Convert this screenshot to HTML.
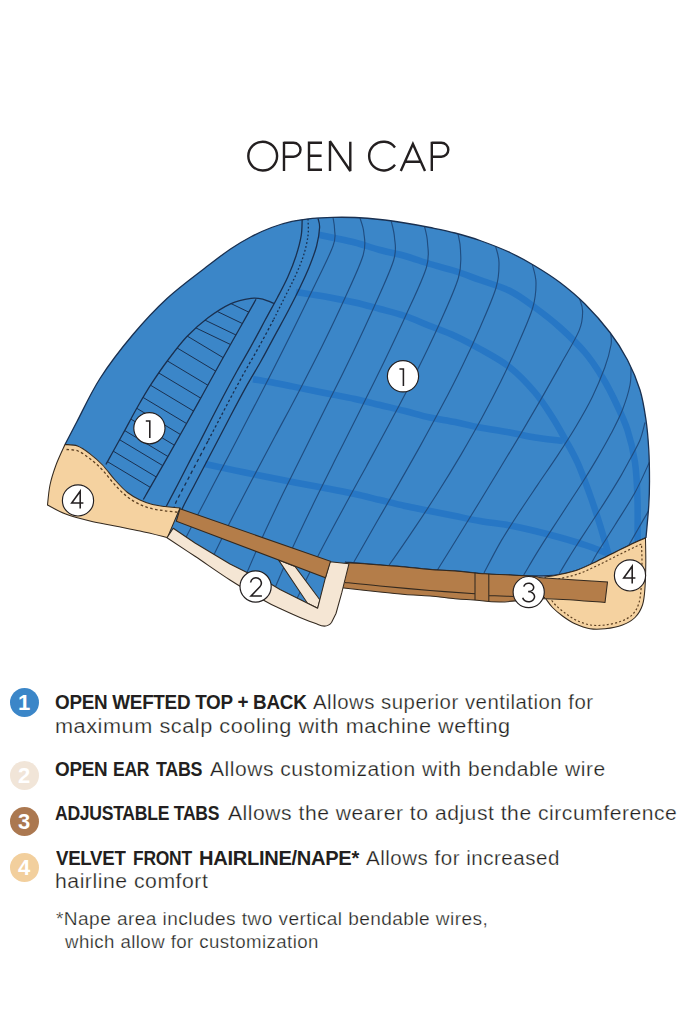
<!DOCTYPE html><html><head><meta charset="utf-8"><title>Open Cap</title><style>
html,body{margin:0;padding:0;background:#fff;}
body{width:683px;height:1024px;position:relative;overflow:hidden;font-family:"Liberation Sans",sans-serif;color:#231f20;}
.l{position:absolute;white-space:nowrap;line-height:24px;transform-origin:0 0;}
.b{font-weight:bold;}
.r{-webkit-text-stroke:0.25px #fff;}
.d{position:absolute;width:29px;height:29px;border-radius:50%;color:#fff;font-weight:bold;font-size:22px;line-height:29px;text-align:center;}
</style></head><body>
<svg width="683" height="1024" viewBox="0 0 683 1024" style="position:absolute;left:0;top:0">
<defs><clipPath id="cb"><path d="M65.0,444.5 C67.0,440.7 71.2,432.5 77.0,421.5 C82.8,410.5 90.7,393.0 100.0,378.5 C109.3,364.0 121.8,347.8 133.0,334.5 C144.2,321.2 155.0,309.6 167.0,298.5 C179.0,287.4 194.4,276.2 205.0,268.0 C215.6,259.8 222.8,254.2 230.5,249.0 C238.2,243.8 244.2,240.4 251.0,236.8 C257.8,233.2 264.7,230.1 271.5,227.5 C278.3,224.9 285.2,222.9 292.0,221.4 C298.8,219.9 305.7,219.0 312.5,218.3 C319.3,217.6 325.9,217.4 333.0,217.3 C340.1,217.2 347.2,217.1 355.0,217.5 C362.8,217.9 371.7,218.6 380.0,219.5 C388.3,220.4 396.7,221.7 405.0,223.0 C413.3,224.3 421.7,225.8 430.0,227.5 C438.3,229.2 446.7,230.8 455.0,233.0 C463.3,235.2 470.8,237.2 480.0,240.5 C489.2,243.8 500.8,248.2 510.0,252.5 C519.2,256.8 526.7,261.0 535.0,266.0 C543.3,271.0 551.7,276.2 560.0,282.5 C568.3,288.8 576.7,295.7 585.0,304.0 C593.3,312.3 602.9,323.2 610.0,332.5 C617.1,341.8 622.5,350.4 627.5,360.0 C632.5,369.6 636.9,380.0 640.0,390.0 C643.1,400.0 644.5,410.0 646.0,420.0 C647.5,430.0 648.2,439.8 648.8,450.0 C649.4,460.2 649.5,471.8 649.5,481.0 C649.5,490.2 649.4,495.6 648.8,505.0 C648.2,514.4 646.5,532.1 646.0,537.5 C644.2,538.3 639.8,540.2 635.0,542.5 C630.2,544.8 623.8,547.9 617.5,551.0 C611.2,554.1 604.2,557.8 597.5,561.0 C590.8,564.2 584.2,567.7 577.5,570.0 C570.8,572.3 564.6,574.0 557.5,575.0 C550.4,576.0 542.9,576.0 535.0,576.0 C527.1,576.0 518.3,575.4 510.0,575.0 C501.7,574.6 494.2,574.5 485.0,573.8 C475.8,573.1 464.2,571.7 455.0,571.0 C445.8,570.3 438.3,570.2 430.0,569.5 C421.7,568.8 413.3,567.8 405.0,567.0 C396.7,566.2 389.2,565.8 380.0,565.0 C370.8,564.2 355.8,563.0 350.0,562.5 C344.2,562.0 345.8,562.1 345.0,562.0 L347.0,564.0 L340.0,592.0 L334.0,613.0 L329.0,622.0 L322.0,624.0 L280.0,607.0 L230.0,578.5 L168.5,537.0 L166.0,536.0 L179.0,508.0 C177.5,507.8 169.6,507.1 165.0,506.5 C160.4,505.9 156.7,505.6 152.5,504.5 C148.3,503.4 144.2,502.0 140.0,500.0 C135.8,498.0 131.7,495.8 127.5,492.5 C123.3,489.2 119.2,484.6 115.0,480.0 C110.8,475.4 106.7,469.4 102.5,465.0 C98.3,460.6 94.2,457.0 90.0,453.8 C85.8,450.6 81.7,447.6 77.5,446.0 C73.3,444.4 67.1,444.8 65.0,444.5Z"/></clipPath></defs>
<path d="M65.0,444.5 C67.0,440.7 71.2,432.5 77.0,421.5 C82.8,410.5 90.7,393.0 100.0,378.5 C109.3,364.0 121.8,347.8 133.0,334.5 C144.2,321.2 155.0,309.6 167.0,298.5 C179.0,287.4 194.4,276.2 205.0,268.0 C215.6,259.8 222.8,254.2 230.5,249.0 C238.2,243.8 244.2,240.4 251.0,236.8 C257.8,233.2 264.7,230.1 271.5,227.5 C278.3,224.9 285.2,222.9 292.0,221.4 C298.8,219.9 305.7,219.0 312.5,218.3 C319.3,217.6 325.9,217.4 333.0,217.3 C340.1,217.2 347.2,217.1 355.0,217.5 C362.8,217.9 371.7,218.6 380.0,219.5 C388.3,220.4 396.7,221.7 405.0,223.0 C413.3,224.3 421.7,225.8 430.0,227.5 C438.3,229.2 446.7,230.8 455.0,233.0 C463.3,235.2 470.8,237.2 480.0,240.5 C489.2,243.8 500.8,248.2 510.0,252.5 C519.2,256.8 526.7,261.0 535.0,266.0 C543.3,271.0 551.7,276.2 560.0,282.5 C568.3,288.8 576.7,295.7 585.0,304.0 C593.3,312.3 602.9,323.2 610.0,332.5 C617.1,341.8 622.5,350.4 627.5,360.0 C632.5,369.6 636.9,380.0 640.0,390.0 C643.1,400.0 644.5,410.0 646.0,420.0 C647.5,430.0 648.2,439.8 648.8,450.0 C649.4,460.2 649.5,471.8 649.5,481.0 C649.5,490.2 649.4,495.6 648.8,505.0 C648.2,514.4 646.5,532.1 646.0,537.5 C644.2,538.3 639.8,540.2 635.0,542.5 C630.2,544.8 623.8,547.9 617.5,551.0 C611.2,554.1 604.2,557.8 597.5,561.0 C590.8,564.2 584.2,567.7 577.5,570.0 C570.8,572.3 564.6,574.0 557.5,575.0 C550.4,576.0 542.9,576.0 535.0,576.0 C527.1,576.0 518.3,575.4 510.0,575.0 C501.7,574.6 494.2,574.5 485.0,573.8 C475.8,573.1 464.2,571.7 455.0,571.0 C445.8,570.3 438.3,570.2 430.0,569.5 C421.7,568.8 413.3,567.8 405.0,567.0 C396.7,566.2 389.2,565.8 380.0,565.0 C370.8,564.2 355.8,563.0 350.0,562.5 C344.2,562.0 345.8,562.1 345.0,562.0 L347.0,564.0 L340.0,592.0 L334.0,613.0 L329.0,622.0 L322.0,624.0 L280.0,607.0 L230.0,578.5 L168.5,537.0 L166.0,536.0 L179.0,508.0 C177.5,507.8 169.6,507.1 165.0,506.5 C160.4,505.9 156.7,505.6 152.5,504.5 C148.3,503.4 144.2,502.0 140.0,500.0 C135.8,498.0 131.7,495.8 127.5,492.5 C123.3,489.2 119.2,484.6 115.0,480.0 C110.8,475.4 106.7,469.4 102.5,465.0 C98.3,460.6 94.2,457.0 90.0,453.8 C85.8,450.6 81.7,447.6 77.5,446.0 C73.3,444.4 67.1,444.8 65.0,444.5Z" fill="#3b86c8"/>
<g clip-path="url(#cb)" fill="none">
<path d="M318.6,234.7 C321.0,235.2 326.9,236.5 333.0,237.8 C339.1,239.1 347.2,240.5 355.0,242.5 C362.8,244.5 371.7,247.8 380.0,250.0 C388.3,252.2 396.7,253.7 405.0,256.0 C413.3,258.3 421.7,261.5 430.0,264.0 C438.3,266.5 446.7,268.3 455.0,271.0 C463.3,273.7 470.8,276.7 480.0,280.0 C489.2,283.3 500.8,286.4 510.0,291.0 C519.2,295.6 526.7,301.4 535.0,307.5 C543.3,313.6 551.7,320.0 560.0,327.5 C568.3,335.0 577.9,344.2 585.0,352.5 C592.1,360.8 597.5,369.4 602.5,377.5 C607.5,385.6 610.8,392.2 615.0,401.0 C619.2,409.8 624.2,419.8 627.5,430.0 C630.8,440.2 633.3,450.8 635.0,462.5 C636.7,474.2 637.1,486.2 637.5,500.0 C637.9,513.8 637.5,537.5 637.5,545.0" stroke="#2777c5" stroke-width="6.5"/>
<path d="M296.0,292.0 C298.8,292.4 306.8,293.7 312.5,294.6 C318.2,295.5 322.9,296.2 330.0,297.5 C337.1,298.8 346.7,300.6 355.0,302.5 C363.3,304.4 371.7,306.8 380.0,309.0 C388.3,311.2 396.7,313.2 405.0,316.0 C413.3,318.8 421.7,322.7 430.0,326.0 C438.3,329.3 446.7,332.2 455.0,336.0 C463.3,339.8 470.8,343.8 480.0,349.0 C489.2,354.2 500.8,360.2 510.0,367.5 C519.2,374.8 527.9,384.2 535.0,392.5 C542.1,400.8 547.5,409.8 552.5,417.5 C557.5,425.2 560.8,431.5 565.0,439.0 C569.2,446.5 573.3,453.2 577.5,462.5 C581.7,471.8 586.2,484.6 590.0,495.0 C593.8,505.4 596.8,514.8 600.0,525.0 C603.2,535.2 607.5,550.8 609.0,556.0" stroke="#2777c5" stroke-width="6.5"/>
<path d="M253.0,379.2 C256.1,379.7 265.0,381.1 271.5,382.3 C278.0,383.5 285.2,385.0 292.0,386.4 C298.8,387.8 306.2,389.2 312.5,390.5 C318.8,391.8 322.9,392.6 330.0,394.0 C337.1,395.4 346.7,397.2 355.0,399.0 C363.3,400.8 371.7,403.0 380.0,405.0 C388.3,407.0 396.7,408.9 405.0,411.0 C413.3,413.1 421.7,415.7 430.0,417.5 C438.3,419.3 446.7,420.3 455.0,422.0 C463.3,423.7 470.8,425.8 480.0,427.5 C489.2,429.2 500.8,430.8 510.0,432.5 C519.2,434.2 526.2,436.1 535.0,437.5 C543.8,438.9 558.3,440.4 563.0,441.0" stroke="#2777c5" stroke-width="6.5"/>
<path d="M205.0,464.0 C211.7,465.4 230.0,469.4 245.0,472.5 C260.0,475.6 280.8,479.8 295.0,482.5 C309.2,485.2 320.0,487.1 330.0,489.0 C340.0,490.9 346.7,492.2 355.0,494.0 C363.3,495.8 371.7,498.0 380.0,500.0 C388.3,502.0 396.7,504.2 405.0,506.0 C413.3,507.8 421.7,509.3 430.0,511.0 C438.3,512.7 446.7,514.3 455.0,516.0 C463.3,517.7 470.8,519.4 480.0,521.0 C489.2,522.6 500.8,523.8 510.0,525.5 C519.2,527.2 526.7,529.0 535.0,531.0 C543.3,533.0 551.7,535.2 560.0,537.5 C568.3,539.8 577.2,542.4 585.0,545.0 C592.8,547.6 603.3,551.7 607.0,553.0" stroke="#2777c5" stroke-width="6.5"/>
<path d="M333.0,217.5 C333.3,219.5 334.6,224.8 334.6,229.6 C334.6,234.3 336.6,236.2 333.0,246.0 C329.5,255.8 320.1,274.1 313.4,288.1 C306.7,302.2 299.9,316.2 292.9,330.3 C286.0,344.3 278.9,358.4 271.7,372.4 C264.6,386.5 257.3,400.5 250.0,414.6 C242.8,428.6 235.4,442.7 228.1,456.7 C220.7,470.8 213.3,484.8 206.0,498.9 C198.7,512.9 187.8,534.0 184.1,541.0" stroke="#204d80" stroke-width="1.15"/>
<path d="M360.0,218.0 C360.6,220.4 363.3,226.3 363.8,232.5 C364.3,238.7 366.5,243.7 363.2,255.0 C359.9,266.3 350.7,285.2 343.9,300.3 C337.1,315.4 329.8,330.5 322.4,345.6 C314.9,360.7 307.1,375.8 299.2,390.9 C291.4,406.0 283.2,421.0 275.2,436.1 C267.2,451.2 259.1,466.3 251.1,481.4 C243.2,496.5 235.3,511.6 227.7,526.7 C220.1,541.8 209.2,564.5 205.5,572.0" stroke="#204d80" stroke-width="1.15"/>
<path d="M391.3,221.3 C391.8,224.0 394.1,231.1 394.5,237.5 C394.9,243.9 397.1,248.5 393.7,260.0 C390.3,271.5 381.0,291.1 374.1,306.7 C367.2,322.3 359.9,337.9 352.5,353.4 C345.0,369.0 337.3,384.6 329.5,400.1 C321.8,415.7 313.9,431.3 306.1,446.9 C298.4,462.4 290.6,478.0 283.0,493.6 C275.5,509.1 268.0,524.7 261.0,540.3 C253.9,555.9 244.2,579.2 240.8,587.0" stroke="#204d80" stroke-width="1.15"/>
<path d="M424.5,226.3 C425.0,229.0 427.2,235.6 427.5,242.5 C427.8,249.4 430.0,255.4 426.4,267.5 C422.8,279.6 413.1,299.4 405.9,315.3 C398.8,331.2 391.2,347.1 383.5,363.1 C375.8,379.0 367.8,394.9 359.8,410.9 C351.9,426.8 343.8,442.7 335.8,458.6 C327.8,474.6 319.8,490.5 312.1,506.4 C304.4,522.4 296.8,538.3 289.6,554.2 C282.4,570.1 272.4,594.0 269.0,602.0" stroke="#204d80" stroke-width="1.15"/>
<path d="M458.0,233.8 C458.4,236.5 460.4,242.7 460.5,250.0 C460.6,257.3 462.1,265.0 458.5,277.5 C454.9,290.0 446.0,309.0 439.0,324.7 C431.9,340.5 424.3,356.2 416.4,371.9 C408.6,387.7 400.3,403.4 391.9,419.1 C383.6,434.9 374.9,450.6 366.3,466.4 C357.7,482.1 349.0,497.8 340.6,513.6 C332.1,529.3 323.6,545.0 315.6,560.8 C307.6,576.5 296.3,600.1 292.5,608.0" stroke="#204d80" stroke-width="1.15"/>
<path d="M495.5,246.0 C496.1,248.8 498.9,255.6 499.0,262.5 C499.1,269.4 499.2,276.8 496.1,287.5 C493.0,298.2 486.0,313.6 480.4,326.7 C474.8,339.8 468.7,352.9 462.3,365.9 C456.0,379.0 449.3,392.1 442.4,405.1 C435.5,418.2 428.3,431.3 421.1,444.4 C413.9,457.4 406.4,470.5 398.9,483.6 C391.5,496.6 383.8,509.7 376.3,522.8 C368.8,535.9 357.6,555.5 353.9,562.0" stroke="#204d80" stroke-width="1.15"/>
<path d="M532.5,265.0 C533.1,267.9 535.9,275.4 536.0,282.5 C536.1,289.6 535.8,297.2 532.8,307.5 C529.8,317.8 523.3,332.1 517.9,344.4 C512.6,356.6 506.9,368.9 500.9,381.2 C494.8,393.5 488.4,405.8 481.8,418.1 C475.1,430.4 468.1,442.6 460.9,454.9 C453.6,467.2 446.1,479.5 438.3,491.8 C430.5,504.1 422.5,516.4 414.2,528.6 C406.0,540.9 393.1,559.4 388.8,565.5" stroke="#204d80" stroke-width="1.15"/>
<path d="M579.5,298.5 C580.0,300.6 582.6,305.7 582.6,311.0 C582.6,316.3 582.9,321.5 579.2,330.4 C575.6,339.3 566.9,353.2 560.6,364.6 C554.2,376.0 547.7,387.4 541.2,398.9 C534.6,410.3 527.9,421.7 521.2,433.1 C514.4,444.5 507.5,455.9 500.6,467.3 C493.7,478.7 486.8,490.1 479.8,501.5 C472.8,513.0 465.7,524.4 458.7,535.8 C451.6,547.2 441.0,564.3 437.4,570.0" stroke="#204d80" stroke-width="1.15"/>
<path d="M610.8,333.8 C610.8,335.7 612.0,339.4 611.0,345.0 C610.0,350.6 607.9,358.9 604.8,367.5 C601.6,376.1 597.1,387.1 592.3,396.9 C587.6,406.6 581.9,416.4 576.1,426.2 C570.3,436.0 563.9,445.8 557.5,455.6 C551.0,465.4 544.2,475.1 537.6,484.9 C531.0,494.7 524.3,504.5 517.9,514.3 C511.6,524.1 505.3,533.9 499.6,543.6 C494.0,553.4 486.6,568.1 484.0,573.0" stroke="#204d80" stroke-width="1.15"/>
<path d="M631.0,367.5 C630.8,370.4 631.4,377.9 630.0,385.0 C628.6,392.1 625.5,401.9 622.4,410.0 C619.2,418.1 615.2,425.7 611.1,433.6 C607.0,441.4 602.5,449.3 597.9,457.1 C593.3,465.0 588.4,472.9 583.5,480.7 C578.5,488.6 573.3,496.4 568.2,504.3 C563.1,512.1 557.9,520.0 552.8,527.9 C547.7,535.7 542.6,543.6 537.8,551.4 C532.9,559.3 526.1,571.1 523.7,575.0" stroke="#204d80" stroke-width="1.15"/>
<path d="M645.0,422.5 C644.2,425.4 642.5,433.9 640.0,440.0 C637.5,446.1 633.3,453.1 630.2,459.0 C627.0,464.9 624.3,470.0 621.2,475.4 C618.0,480.9 614.6,486.4 611.2,491.9 C607.9,497.3 604.3,502.8 600.8,508.3 C597.2,513.8 593.6,519.2 590.0,524.7 C586.4,530.2 582.8,535.7 579.3,541.1 C575.8,546.6 572.2,552.1 568.9,557.6 C565.5,563.0 560.7,571.3 559.1,574.0" stroke="#204d80" stroke-width="1.15"/>
<path d="M649.5,462.0 C647.1,467.1 640.8,482.0 635.0,492.5 C629.2,503.0 621.2,515.0 615.0,525.0 C608.8,535.0 601.5,546.0 597.5,552.5 C593.5,559.0 592.1,562.1 591.0,564.0" stroke="#204d80" stroke-width="1.15"/>
<path d="M649.0,510.0 C647.1,513.3 641.1,523.8 637.5,530.0 C633.9,536.2 629.2,544.6 627.5,547.5" stroke="#204d80" stroke-width="1.15"/>
<path d="M105.9,464.5 C106.9,462.8 108.8,459.3 111.7,454.0 C114.6,448.7 119.1,440.7 123.4,432.9 C127.7,425.1 132.8,415.2 137.5,407.0 C142.2,398.8 146.4,391.5 151.5,383.7 C156.6,375.9 162.1,367.8 168.0,360.0 C173.9,352.2 180.1,343.8 186.7,336.8 C193.3,329.8 200.4,323.5 207.7,318.0 C215.0,312.5 223.3,307.1 230.5,303.8 C237.7,300.5 245.5,299.1 251.0,298.3 C256.5,297.6 259.5,298.4 263.3,299.3 C267.1,300.2 272.2,302.8 274.0,303.5" stroke="#1a3050" stroke-width="1.3"/>
<path d="M256.0,299.3 C253.2,304.3 244.7,319.4 239.0,329.5 C233.3,339.6 227.8,349.2 221.8,360.0 C215.8,370.8 209.2,382.8 203.0,394.0 C196.8,405.2 190.5,416.4 184.3,427.5 C178.1,438.6 171.8,449.6 165.6,460.6 C159.3,471.6 150.5,486.9 146.8,493.4 C143.1,499.9 143.9,498.5 143.3,499.5" stroke="#1a3050" stroke-width="1.3"/>
<path d="M302.2,219.5 C302.0,222.2 302.2,229.6 301.2,235.7 C300.2,241.8 298.2,249.2 296.0,256.0 C293.8,262.8 291.0,269.8 287.9,276.7 C284.8,283.6 281.4,290.0 277.6,297.2 C273.8,304.4 269.7,311.6 265.3,319.8 C260.9,328.0 255.7,337.9 251.0,346.4 C246.3,354.9 241.5,362.9 237.0,371.0 C232.5,379.1 228.2,387.0 224.0,395.0 C219.8,403.0 215.5,411.2 211.5,419.0 C207.5,426.8 203.8,434.1 200.0,441.5 C196.2,448.9 192.2,456.2 188.5,463.5 C184.8,470.8 181.1,478.1 177.5,485.0 C173.9,491.9 169.1,501.0 167.0,505.0 C164.9,509.0 165.3,508.3 165.0,509.0" stroke="#1a3050" stroke-width="1.3"/>
<path d="M308.0,219.0 C308.0,221.8 308.8,229.5 308.0,235.7 C307.2,241.9 305.5,249.4 303.3,256.2 C301.1,263.0 298.1,269.9 295.0,276.7 C291.9,283.5 288.4,290.0 284.8,297.2 C281.2,304.4 275.4,316.0 273.5,319.8" stroke="#1a3050" stroke-width="1.3" stroke-dasharray="1.7 2.2"/>
<path d="M273.5,319.8 C271.1,324.2 263.9,337.9 259.2,346.4 C254.5,354.9 249.8,362.8 245.2,371.0 C240.6,379.2 236.2,387.4 231.8,395.6 C227.4,403.8 223.0,412.4 219.0,420.0 C215.0,427.6 209.8,437.5 208.0,441.0" stroke="#1a3050" stroke-width="1.3" stroke-dasharray="2.5 2.3"/>
<path d="M208.0,441.0 C206.2,444.3 201.0,454.3 197.5,461.0 C194.0,467.7 190.5,474.3 187.0,481.0 C183.5,487.7 178.7,496.5 176.4,501.3 C174.2,506.1 174.0,508.6 173.5,510.0" stroke="#1a3050" stroke-width="1.3" stroke-dasharray="3.6 3.1"/>
<path d="M318.0,218.5 C318.3,220.0 319.8,222.9 319.6,227.5 C319.4,232.1 318.3,239.5 316.6,246.0 C314.9,252.5 312.1,259.7 309.4,266.5 C306.7,273.3 303.6,279.8 300.2,287.0 C296.8,294.2 293.0,301.6 288.9,309.5 C284.8,317.4 280.2,325.6 275.6,334.1 C271.0,342.7 266.0,352.2 261.2,360.8 C256.4,369.4 251.9,376.4 246.9,385.4 C241.9,394.4 235.8,405.9 231.0,415.0 C226.2,424.1 222.1,432.2 218.0,440.0 C213.9,447.8 210.2,454.8 206.5,462.0 C202.8,469.2 199.3,475.7 195.5,483.0 C191.7,490.3 185.8,501.3 183.5,506.0 C181.2,510.7 181.8,510.2 181.5,511.0" stroke="#1a3050" stroke-width="1.3"/>
</g>
<defs><clipPath id="ce"><path d="M105.9,464.5 C106.9,462.8 108.8,459.3 111.7,454.0 C114.6,448.7 119.1,440.7 123.4,432.9 C127.7,425.1 132.8,415.2 137.5,407.0 C142.2,398.8 146.4,391.5 151.5,383.7 C156.6,375.9 162.1,367.8 168.0,360.0 C173.9,352.2 180.1,343.8 186.7,336.8 C193.3,329.8 200.4,323.5 207.7,318.0 C215.0,312.5 223.3,307.1 230.5,303.8 C237.7,300.5 247.6,299.2 251.0,298.3 L256,299.3 C253.2,304.3 244.7,319.4 239.0,329.5 C233.3,339.6 227.8,349.2 221.8,360.0 C215.8,370.8 209.2,382.8 203.0,394.0 C196.8,405.2 190.5,416.4 184.3,427.5 C178.1,438.6 171.8,449.6 165.6,460.6 C159.3,471.6 150.5,486.9 146.8,493.4 C143.1,499.9 143.9,498.5 143.3,499.5Z"/></clipPath></defs>
<g clip-path="url(#ce)" stroke="#1a3050" stroke-width="1.0" fill="none">
<path d="M222.9,299.7 L312.9,342.9"/>
<path d="M208.6,307.3 L298.6,350.5"/>
<path d="M196.2,315.9 L286.2,359.1"/>
<path d="M186.7,323.5 L276.7,366.7"/>
<path d="M177.1,330.0 L267.1,384.0"/>
<path d="M167.2,342.0 L257.2,396.0"/>
<path d="M157.5,355.0 L247.5,409.0"/>
<path d="M149.0,367.1 L239.0,421.1"/>
<path d="M141.0,379.5 L231.0,433.5"/>
<path d="M133.5,391.7 L223.5,445.7"/>
<path d="M126.6,402.2 L216.6,456.2"/>
<path d="M120.4,412.8 L210.4,466.8"/>
<path d="M114.6,424.5 L204.6,478.5"/>
<path d="M109.9,433.9 L199.9,487.9"/>
<path d="M104.0,445.6 L194.0,499.6"/>
<path d="M98.2,456.1 L188.2,510.1"/>
</g>
<path d="M65.0,444.5 C67.0,440.7 71.2,432.5 77.0,421.5 C82.8,410.5 90.7,393.0 100.0,378.5 C109.3,364.0 121.8,347.8 133.0,334.5 C144.2,321.2 155.0,309.6 167.0,298.5 C179.0,287.4 194.4,276.2 205.0,268.0 C215.6,259.8 222.8,254.2 230.5,249.0 C238.2,243.8 244.2,240.4 251.0,236.8 C257.8,233.2 264.7,230.1 271.5,227.5 C278.3,224.9 285.2,222.9 292.0,221.4 C298.8,219.9 305.7,219.0 312.5,218.3 C319.3,217.6 325.9,217.4 333.0,217.3 C340.1,217.2 347.2,217.1 355.0,217.5 C362.8,217.9 371.7,218.6 380.0,219.5 C388.3,220.4 396.7,221.7 405.0,223.0 C413.3,224.3 421.7,225.8 430.0,227.5 C438.3,229.2 446.7,230.8 455.0,233.0 C463.3,235.2 470.8,237.2 480.0,240.5 C489.2,243.8 500.8,248.2 510.0,252.5 C519.2,256.8 526.7,261.0 535.0,266.0 C543.3,271.0 551.7,276.2 560.0,282.5 C568.3,288.8 576.7,295.7 585.0,304.0 C593.3,312.3 602.9,323.2 610.0,332.5 C617.1,341.8 622.5,350.4 627.5,360.0 C632.5,369.6 636.9,380.0 640.0,390.0 C643.1,400.0 644.5,410.0 646.0,420.0 C647.5,430.0 648.2,439.8 648.8,450.0 C649.4,460.2 649.5,471.8 649.5,481.0 C649.5,490.2 649.4,495.6 648.8,505.0 C648.2,514.4 646.5,532.1 646.0,537.5 C644.2,538.3 639.8,540.2 635.0,542.5 C630.2,544.8 623.8,547.9 617.5,551.0 C611.2,554.1 604.2,557.8 597.5,561.0 C590.8,564.2 584.2,567.7 577.5,570.0 C570.8,572.3 564.6,574.0 557.5,575.0 C550.4,576.0 542.9,576.0 535.0,576.0 C527.1,576.0 518.3,575.4 510.0,575.0 C501.7,574.6 494.2,574.5 485.0,573.8 C475.8,573.1 464.2,571.7 455.0,571.0 C445.8,570.3 438.3,570.2 430.0,569.5 C421.7,568.8 413.3,567.8 405.0,567.0 C396.7,566.2 389.2,565.8 380.0,565.0 C370.8,564.2 355.8,563.0 350.0,562.5 C344.2,562.0 345.8,562.1 345.0,562.0" fill="none" stroke="#1a3050" stroke-width="1.3"/>
<path d="M545.0,577.0 C547.1,576.7 552.1,576.2 557.5,575.0 C562.9,573.8 570.8,572.3 577.5,570.0 C584.2,567.7 590.8,564.2 597.5,561.0 C604.2,557.8 611.2,554.1 617.5,551.0 C623.8,547.9 630.3,544.7 635.0,542.5 C639.7,540.3 643.8,538.8 645.5,538.0 C645.5,542.1 645.9,554.2 645.8,562.5 C645.7,570.8 645.5,580.4 645.0,587.5 C644.5,594.6 644.2,600.0 642.5,605.0 C640.8,610.0 638.3,614.2 635.0,617.5 C631.7,620.8 627.5,623.1 622.5,625.0 C617.5,626.9 610.4,628.2 605.0,628.8 C599.6,629.4 595.0,629.6 590.0,628.8 C585.0,628.0 579.6,625.9 575.0,623.8 C570.4,621.7 566.2,618.7 562.5,616.0 C558.8,613.3 555.2,610.3 552.5,607.5 C549.8,604.7 547.1,600.4 546.0,599.0Z" fill="#f5d2a0" stroke="#33291f" stroke-width="1.05"/>
<path d="M546.0,581.0 C548.0,580.7 552.7,580.2 558.0,579.0 C563.3,577.8 571.2,576.3 578.0,574.0 C584.8,571.7 591.8,568.2 598.5,565.0 C605.2,561.8 612.2,558.1 618.5,555.0 C624.8,551.9 632.2,548.3 636.0,546.5 C639.8,544.7 640.6,544.4 641.5,544.0 C641.6,547.1 642.0,555.3 642.0,562.5 C642.0,569.7 641.7,580.2 641.2,587.0 C640.7,593.8 640.2,598.9 638.8,603.5 C637.3,608.1 635.5,611.5 632.5,614.5 C629.5,617.5 625.6,619.5 621.0,621.3 C616.4,623.0 610.1,624.4 605.0,625.0 C599.9,625.6 595.2,625.8 590.5,625.0 C585.8,624.2 580.8,622.3 576.5,620.3 C572.2,618.3 568.5,615.5 565.0,613.0 C561.5,610.5 557.8,607.2 555.5,605.0 C553.2,602.8 551.8,600.4 551.0,599.5" fill="none" stroke="#5c3f20" stroke-width="1.2" stroke-dasharray="2 2.2"/>
<path d="M65.0,444.5 C67.1,444.8 73.3,444.4 77.5,446.0 C81.7,447.6 85.8,450.6 90.0,453.8 C94.2,457.0 98.3,460.6 102.5,465.0 C106.7,469.4 110.8,475.4 115.0,480.0 C119.2,484.6 123.3,489.2 127.5,492.5 C131.7,495.8 135.8,498.0 140.0,500.0 C144.2,502.0 148.3,503.4 152.5,504.5 C156.7,505.6 160.4,505.9 165.0,506.5 C169.6,507.1 177.5,507.8 180.0,508.0 L167.5,537.5 C162.9,536.4 148.8,532.9 140.0,531.0 C131.2,529.1 123.3,527.7 115.0,526.0 C106.7,524.3 98.3,523.0 90.0,521.0 C81.7,519.0 72.1,516.5 65.0,513.8 C57.9,511.1 50.4,506.5 47.5,505.0 C47.9,501.7 48.6,491.7 50.0,485.0 C51.4,478.3 53.5,471.8 56.0,465.0 C58.5,458.2 63.5,447.9 65.0,444.5Z" fill="#f5d2a0" stroke="#33291f" stroke-width="1.05"/>
<path d="M66.5,449.5 C68.4,449.8 74.1,449.4 78.0,451.0 C81.9,452.6 85.9,455.6 90.0,458.8 C94.1,462.0 98.3,465.6 102.5,470.0 C106.7,474.4 110.8,480.5 115.0,485.0 C119.2,489.5 123.3,493.8 127.5,497.0 C131.7,500.2 135.8,502.5 140.0,504.5 C144.2,506.5 148.3,507.8 152.5,508.8 C156.7,509.9 160.8,510.2 165.0,510.8 C169.2,511.4 175.8,512.0 178.0,512.3" fill="none" stroke="#5c3f20" stroke-width="1.3" stroke-dasharray="2.6 2.4"/>
<path d="M341.0,564.0 C342.5,563.8 343.5,562.8 350.0,563.0 C356.5,563.2 370.8,564.3 380.0,565.0 C389.2,565.7 396.7,566.2 405.0,567.0 C413.3,567.8 421.7,568.8 430.0,569.5 C438.3,570.2 445.8,570.3 455.0,571.0 C464.2,571.7 475.8,573.1 485.0,573.8 C494.2,574.5 501.7,574.5 510.0,575.0 C518.3,575.5 529.2,576.0 535.0,576.5 C540.8,577.0 532.9,577.1 545.0,578.0 C557.1,578.9 597.1,581.3 607.5,582.0 L605,602.5 C595.0,601.9 562.3,598.9 545.0,598.8 C527.7,598.7 512.9,601.8 501.0,602.0 C489.1,602.2 481.5,600.5 473.8,600.0 C466.1,599.5 462.3,599.5 455.0,598.8 C447.7,598.1 438.3,596.7 430.0,596.0 C421.7,595.3 413.3,595.2 405.0,594.5 C396.7,593.8 390.2,593.1 380.0,592.0 C369.8,590.9 351.0,588.8 343.8,588.0 C336.6,587.2 338.1,587.2 337.0,587.0Z" fill="#b47d49" stroke="#33291f" stroke-width="1.05"/>
<path d="M345.0,582.5 C350.8,583.1 365.8,584.7 380.0,586.0 C394.2,587.3 414.2,589.2 430.0,590.5 C445.8,591.8 467.5,593.2 475.0,593.8 M488.8,595.5 C493.2,595.7 505.6,596.2 515.0,596.5 C524.4,596.8 540.0,597.3 545.0,597.5 M475,572.8 V600 M488.8,574 V601" fill="none" stroke="#33291f" stroke-width="1.05"/>
<path d="M278.6,560.0 L295.0,566.5 L320.0,600.0 L317.6,608.3 L307.5,603.2Z" fill="#f5e6d4" stroke="#33291f" stroke-width="1.05"/>
<path d="M173.2,528.2 L167,537.8 C171.7,540.9 184.5,549.3 195.0,556.3 C205.5,563.3 218.3,572.5 230.0,580.0 C241.7,587.5 256.7,596.2 265.0,601.0 C273.3,605.8 274.2,605.8 280.0,608.5 C285.8,611.2 293.7,614.8 300.0,617.5 C306.3,620.2 315.0,623.3 318.0,624.5 Q327,628.5 331.5,622.5 L336,613.5 L341.8,592.7 L345,579.5 L349,563.7 L330,561.7 L325.3,578.2 L317.6,608.3 L280,589.5 L270,583.5 L248,573 L230,564 L195,543 Z" fill="#f5e6d4" stroke="#33291f" stroke-width="1.05" stroke-linejoin="round"/>
<path d="M180.0,508.8 L330.5,561.3 L325.5,577.7 L176.3,521.3Z" fill="#b47d49" stroke="#33291f" stroke-width="1.05"/>
<g transform="translate(149.4,428.2)"><circle r="15.6" fill="#fff" stroke="#231f20" stroke-width="1.15"/><path d="M-3.6,-7.3 H0.4 V9.7" fill="none" stroke="#231f20" stroke-width="1.55" stroke-linejoin="miter"/></g>
<g transform="translate(403.0,376.3)"><circle r="15.6" fill="#fff" stroke="#231f20" stroke-width="1.15"/><path d="M-3.6,-7.3 H0.4 V9.7" fill="none" stroke="#231f20" stroke-width="1.55" stroke-linejoin="miter"/></g>
<g transform="translate(78.0,500.4)"><circle r="15.6" fill="#fff" stroke="#231f20" stroke-width="1.15"/><path d="M2.2,8.1 V-9.2 L-6.3,2.6 H5.4" fill="none" stroke="#231f20" stroke-width="1.55" stroke-linejoin="miter"/></g>
<g transform="translate(255.6,586.5)"><circle r="15.6" fill="#fff" stroke="#231f20" stroke-width="1.15"/><path d="M-5,-4 A5.4,5.4 0 1 1 4.3,0.3 L-4.6,9.4 H6.3" fill="none" stroke="#231f20" stroke-width="1.55" stroke-linejoin="miter"/></g>
<g transform="translate(528.7,592.1)"><circle r="15.6" fill="#fff" stroke="#231f20" stroke-width="1.15"/><path d="M-4.9,-5.4 A5,4.2 0 1 1 -0.5,-0.5 A6,5.1 0 1 1 -6,5.6" fill="none" stroke="#231f20" stroke-width="1.55" stroke-linejoin="miter"/></g>
<g transform="translate(630.0,575.4)"><circle r="15.6" fill="#fff" stroke="#231f20" stroke-width="1.15"/><path d="M2.2,8.1 V-9.2 L-6.3,2.6 H5.4" fill="none" stroke="#231f20" stroke-width="1.55" stroke-linejoin="miter"/></g>
<g fill="none" stroke="#231f20" stroke-width="2.4" stroke-linecap="butt" stroke-linejoin="miter">
<circle cx="262.7" cy="156.1" r="14.4"/>
<path d="M284.0,171 V141.7 M284.0,142.7 H293.5 A7,7 0 0 1 293.5,156.7 H284.0"/>
<path d="M322,142.7 H309 V169.8 H322 M309,155.8 H321.5"/>
<path d="M330,171 V141.2 L350.3,171 V141.7" stroke-linejoin="bevel"/>
<path d="M395,147.4 A14.4,14.4 0 1 0 395,164.8"/>
<path d="M400.8,171 L412.9,144 L425,171 M405,161.7 H420.8"/>
<path d="M431.8,171 V141.7 M431.8,142.7 H441.3 A7,7 0 0 1 441.3,156.7 H431.8"/>
</g>
</svg>
<div class="l b" style="left:55.06px;top:689.82px;font-size:20.0px;letter-spacing:-0.3px;transform:scaleX(0.9434)">OPEN WEFTED TOP + BACK</div>
<div class="l r" style="left:313.30px;top:689.82px;font-size:20.0px;letter-spacing:0.5px;transform:scaleX(1.0182)">Allows superior ventilation for</div>
<div class="l r" style="left:54.92px;top:713.57px;font-size:20.0px;letter-spacing:0.5px;transform:scaleX(1.0847)">maximum scalp cooling with machine wefting</div>
<div class="l b" style="left:55.06px;top:757.37px;font-size:20.0px;letter-spacing:-0.3px;transform:scaleX(0.9434)">OPEN</div>
<div class="l b" style="left:113.12px;top:757.37px;font-size:20.0px;letter-spacing:-0.3px;transform:scaleX(0.8750)">EAR</div>
<div class="l b" style="left:156.00px;top:757.37px;font-size:20.0px;letter-spacing:-0.3px;transform:scaleX(0.8922)">TABS</div>
<div class="l r" style="left:210.00px;top:757.37px;font-size:20.0px;letter-spacing:0.5px;transform:scaleX(1.0515)">Allows customization with bendable wire</div>
<div class="l b" style="left:55.12px;top:801.07px;font-size:20.0px;letter-spacing:-0.3px;transform:scaleX(0.8780)">ADJUSTABLE TABS</div>
<div class="l r" style="left:227.50px;top:801.07px;font-size:20.0px;letter-spacing:0.5px;transform:scaleX(1.0548)">Allows the wearer to adjust the circumference</div>
<div class="l b" style="left:56.00px;top:845.57px;font-size:20.0px;letter-spacing:-0.3px;transform:scaleX(0.9333)">VELVET</div>
<div class="l b" style="left:133.13px;top:845.57px;font-size:20.0px;letter-spacing:-0.3px;transform:scaleX(0.8731)">FRONT</div>
<div class="l b" style="left:198.99px;top:845.57px;font-size:20.0px;letter-spacing:-0.3px;transform:scaleX(1.0051)">HAIRLINE/NAPE*</div>
<div class="l r" style="left:365.50px;top:845.57px;font-size:20.0px;letter-spacing:0.5px;transform:scaleX(1.0257)">Allows for increased</div>
<div class="l r" style="left:54.94px;top:869.37px;font-size:20.0px;letter-spacing:0.5px;transform:scaleX(1.0594)">hairline comfort</div>
<div class="l r" style="left:55.50px;top:906.94px;font-size:17.5px;letter-spacing:0.4px;transform:scaleX(1.0899)">*Nape area includes two vertical bendable wires,</div>
<div class="l r" style="left:65.00px;top:930.34px;font-size:17.5px;letter-spacing:0.4px;transform:scaleX(1.0654)">which allow for customization</div>
<div class="d" style="left:9.6px;top:687.5px;background:#3b86c8">1</div>
<div class="d" style="left:9.6px;top:761.2px;background:#f1e5d8">2</div>
<div class="d" style="left:9.6px;top:806.8px;background:#ab7850">3</div>
<div class="d" style="left:9.6px;top:853.4px;background:#f2cf9d">4</div>
</body></html>
